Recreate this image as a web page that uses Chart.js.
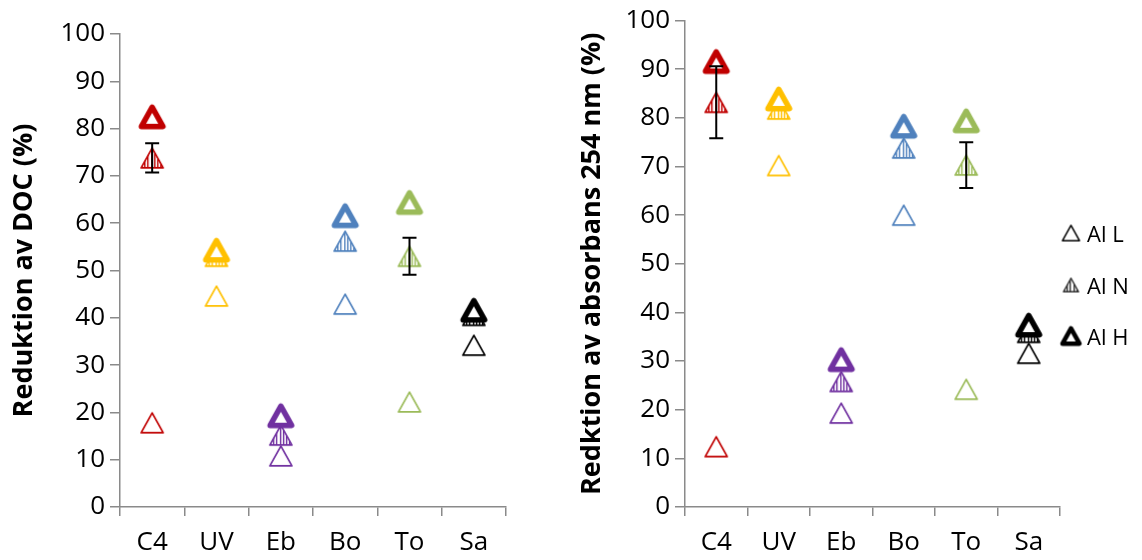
<!DOCTYPE html>
<html>
<head>
<meta charset="utf-8">
<script src="https://cdn.jsdelivr.net/npm/chart.js@4"></script>
<style>
  body { margin: 0; background: #fff; overflow: hidden; }
  #wrap { position: relative; width: 1142px; height: 560px; }
  #docChart { position: absolute; left: 0; top: 0; }
  #absChart { position: absolute; left: 555px; top: 0; }
  .leg-row { position: absolute; left: 1050px; height: 30px; }
  .leg-row canvas { position: absolute; top: 50%; transform: translate(-50%, -50%); left: 21px; }
  .leg-row span {
    position: absolute; left: 37px; top: 0; line-height: 30px;
    font-family: 'Open Sans', sans-serif; font-size: 22px; color: #000; white-space: nowrap;
  }
</style>
</head>
<body>
<div id="wrap">
  <canvas id="docChart" width="545" height="560"></canvas>
  <canvas id="absChart" width="587" height="560"></canvas>
  <div id="legend"></div>
</div>
<script>
// categories and colours
const categories = ['C4', 'UV', 'Eb', 'Bo', 'To', 'Sa'];
const catColors = ['#C00000', '#FFC000', '#7030A0', '#4F81BD', '#9BBB59', '#000000'];
const seriesNames = ['Al L', 'Al N', 'Al H'];
const yTicks = [0, 10, 20, 30, 40, 50, 60, 70, 80, 90, 100];

// Reduktion av DOC (%)
const docL = [17.8, 44.6, 10.8, 42.9, 22.2, 34.2];
const docN = [73.8, 53.0, 15.2, 56.2, 53.0, 40.5];
const docH = [82.5, 54.3, 19.3, 61.6, 64.4, 41.6];
const docErrN = [3.1, null, null, null, 3.9, null];

// Redktion av absorbans 254 nm (%)
const absL = [12.4, 70.2, 19.3, 60.0, 24.2, 31.6];
const absN = [83.2, 81.8, 25.8, 73.8, 70.3, 35.9];
const absH = [91.6, 83.9, 30.3, 78.3, 79.4, 37.4];
const absErrN = [7.4, null, null, null, 4.7, null];

const FONT = "'Open Sans', sans-serif";
const AXIS_GREY = '#8a8a8a';

// MARKERS
function makeMarker(color, kind, w, lw) {
    const pad = 5;
    const size = Math.ceil(w + 2 * pad);
    const c = document.createElement('canvas');
    c.width = size; c.height = size;
    const g = c.getContext('2d');
    const h = w * 0.9;
    const cx = size / 2, cy = size / 2;
    function tri() {
        g.beginPath();
        g.moveTo(cx, cy - h / 2);
        g.lineTo(cx + w / 2, cy + h / 2);
        g.lineTo(cx - w / 2, cy + h / 2);
        g.closePath();
    }
    g.lineJoin = 'round';
    tri();
    g.fillStyle = '#fff';
    g.fill();
    if (kind === 'N') {
        g.save();
        tri();
        g.clip();
        g.fillStyle = color;
        for (let sx = cx - w / 2; sx < cx + w / 2; sx += 3.2) {
            g.fillRect(Math.round(sx), 0, 1.4, size);
        }
        g.restore();
        tri();
    }
    g.strokeStyle = color;
    g.lineWidth = lw;
    g.stroke();
    return c;
}

const markers = {
    L: catColors.map(c => makeMarker(c, 'L', 22, 1.7)),
    N: catColors.map(c => makeMarker(c, 'N', 22, 1.7)),
    H: catColors.map(c => makeMarker(c, 'H', 21.5, 5.5))
};
const legendMarkers = [
    makeMarker('#000', 'L', 17, 1.5),
    makeMarker('#333', 'N', 15, 1.5),
    makeMarker('#000', 'H', 17, 4.5)
];

// LEGEND (html, right of second chart)
const legendRows = [233, 285, 336];
seriesNames.forEach((name, i) => {
    const row = document.createElement('div');
    row.className = 'leg-row';
    row.style.top = (legendRows[i] - 15) + 'px';
    row.appendChild(legendMarkers[i]);
    const t = document.createElement('span');
    t.textContent = name;
    row.appendChild(t);
    document.getElementById('legend').appendChild(row);
});

// error bars on the Al N series
const errorBars = {
    id: 'errorBars',
    afterDatasetsDraw(chart, args, opts) {
        const err = opts.err;
        const vals = opts.vals;
        const ys = chart.scales.y;
        const meta = chart.getDatasetMeta(1);
        const ctx = chart.ctx;
        ctx.save();
        ctx.strokeStyle = '#000';
        ctx.lineWidth = 2;
        err.forEach((e, i) => {
            if (e == null) return;
            const x = meta.data[i].x;
            const top = ys.getPixelForValue(vals[i] + e);
            const bot = ys.getPixelForValue(vals[i] - e);
            ctx.beginPath();
            ctx.moveTo(x, top); ctx.lineTo(x, bot);
            ctx.moveTo(x - 7, top); ctx.lineTo(x + 7, top);
            ctx.moveTo(x - 7, bot); ctx.lineTo(x + 7, bot);
            ctx.stroke();
        });
        ctx.restore();
    }
};

function buildConfig(L, N, H, err, title, titlePad, yWidth, pad) {
    const ds = (label, data, kind, order) => ({
        label: label,
        data: data,
        showLine: false,
        order: order,
        pointStyle: ctx => markers[kind][ctx.dataIndex || 0],
        pointRadius: 12,
        pointHoverRadius: 12
    });
    return {
        type: 'line',
        data: {
            labels: categories,
            datasets: [
                ds(seriesNames[0], L, 'L', 2),
                ds(seriesNames[1], N, 'N', 1),
                ds(seriesNames[2], H, 'H', 0)
            ]
        },
        options: {
            responsive: false,
            animation: false,
            layout: { padding: pad },
            plugins: {
                tooltip: { enabled: false },
                errorBars: { err: err, vals: N },
                legend: { display: false }
            },
            scales: {
                x: {
                    offset: true,
                    grid: {
                        offset: true,
                        drawOnChartArea: false,
                        color: AXIS_GREY,
                        lineWidth: 1.5,
                        tickLength: 9
                    },
                    border: { color: AXIS_GREY, width: 1.5 },
                    ticks: { color: '#000', font: { family: FONT, size: 26 }, padding: 11, maxRotation: 0 },
                    afterFit: s => { s.height = 53; }
                },
                y: {
                    min: 0,
                    max: 100,
                    afterBuildTicks: s => { s.ticks = yTicks.map(v => ({ value: v })); },
                    grid: {
                        drawOnChartArea: false,
                        color: AXIS_GREY,
                        lineWidth: 1.5,
                        tickLength: 10
                    },
                    border: { color: AXIS_GREY, width: 1.5 },
                    ticks: { color: '#000', font: { family: FONT, size: 26 }, padding: 5 },
                    title: {
                        display: true,
                        text: title,
                        color: '#000',
                        font: { family: FONT, size: 27, weight: 'bold' },
                        padding: { top: titlePad, bottom: 0 }
                    },
                    afterFit: s => { s.width = yWidth; }
                }
            }
        },
        plugins: [errorBars]
    };
}

const docChart = new Chart(document.getElementById('docChart'),
    buildConfig(docL, docN, docH, docErrN, 'Reduktion av DOC (%)', 8, 120,
        { top: 34, right: 39, bottom: 0, left: 0 }));

const absChart = new Chart(document.getElementById('absChart'),
    buildConfig(absL, absN, absH, absErrN, 'Redktion av absorbans 254 nm (%)', 21, 130,
        { top: 19, right: 82, bottom: 0, left: 0 }));
</script>
</body>
</html>
